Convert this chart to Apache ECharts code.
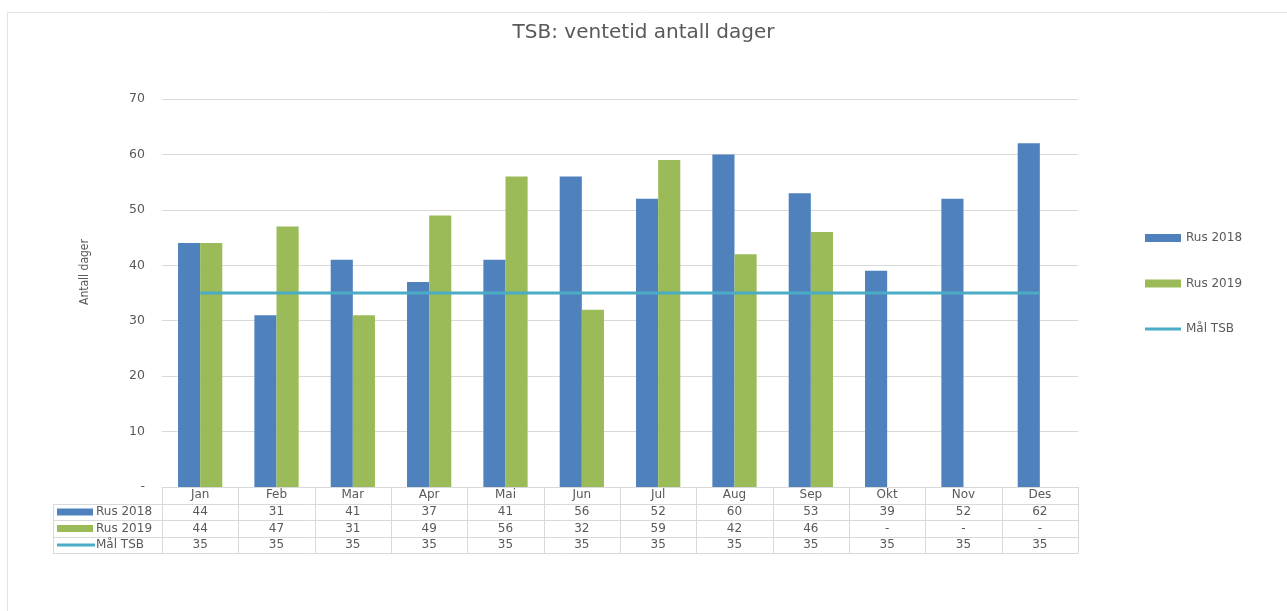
<!DOCTYPE html>
<html>
<head>
<meta charset="utf-8">
<script src="https://cdn.jsdelivr.net/npm/echarts@6/dist/echarts.min.js"></script>
<style>
  html, body { margin: 0; padding: 0; background: #ffffff; }
  #chart { width: 1287px; height: 611px; }
</style>
</head>
<body>
<div id="chart"></div>
<script>
// Monthly waiting time (days) and the TSB target
const categories = ['Jan', 'Feb', 'Mar', 'Apr', 'Mai', 'Jun', 'Jul', 'Aug', 'Sep', 'Okt', 'Nov', 'Des'];
const rus2018 = [44, 31, 41, 37, 41, 56, 52, 60, 53, 39, 52, 62];
const rus2019 = [44, 47, 31, 49, 56, 32, 59, 42, 46, null, null, null];
const maalTSB = [35, 35, 35, 35, 35, 35, 35, 35, 35, 35, 35, 35];
const yMin = 0, yMax = 70, yStep = 10;

const seriesNames = ['Rus 2018', 'Rus 2019', 'Mål TSB'];
const seriesValues = [rus2018, rus2019, maalTSB];

const BLUE = '#4f81bd', GREEN = '#9bbb59', CYAN = '#4bacc6';
const TEXT = '#595959', RULE = '#d9d9d9';
const FONT = '"DejaVu Sans", "Open Sans", sans-serif';

// thin bar used as the legend key of the target line
const LINE_KEY = 'path://M0,0 M0,2.6 L36,2.6 L36,5.4 L0,5.4 Z M36,8';

const chart = echarts.init(document.getElementById('chart'), null, { renderer: 'canvas' });

const option = {
  backgroundColor: '#ffffff',
  animation: false,
  title: {
    text: 'TSB: ventetid antall dager',
    left: 'center',
    top: 18,
    padding: [5, 5, 5, 21],
    textStyle: { color: TEXT, fontSize: 20, fontWeight: 'normal', fontFamily: FONT }
  },
  legend: {
    orient: 'vertical',
    left: 1140,
    top: 227,
    itemGap: 33.5,
    itemWidth: 36,
    itemHeight: 8,
    textStyle: { color: TEXT, fontSize: 12, fontFamily: FONT },
    data: [
      { name: 'Rus 2018', icon: 'rect' },
      { name: 'Rus 2019', icon: 'rect' },
      { name: 'Mål TSB', icon: LINE_KEY }
    ]
  },
  grid: { left: 162, right: 209, top: 99, bottom: 124, containLabel: false },
  xAxis: {
    type: 'category',
    data: categories,
    axisLine: { show: true, lineStyle: { color: RULE } },
    axisTick: { show: false },
    axisLabel: { show: false },
    splitLine: { show: false }
  },
  yAxis: {
    type: 'value',
    min: yMin,
    max: yMax,
    interval: yStep,
    name: 'Antall dager',
    nameLocation: 'middle',
    nameGap: 71,
    nameRotate: 90,
    nameTextStyle: {
      color: '#595959', fontSize: 12,
      fontFamily: '"Liberation Sans Narrow", "DejaVu Sans Condensed", sans-serif',
      padding: [0, 0, 0, 42]
    },
    axisLine: { show: false },
    axisTick: { show: false },
    axisLabel: {
      color: TEXT, fontSize: 12.5, fontFamily: FONT, margin: 17,
      formatter: v => (v === 0 ? '-' : String(v))
    },
    splitLine: { lineStyle: { color: RULE, width: 1 } }
  },
  series: [
    {
      name: 'Rus 2018', type: 'bar', data: rus2018,
      itemStyle: { color: BLUE }, barGap: '0%', barCategoryGap: '42%'
    },
    {
      name: 'Rus 2019', type: 'bar', data: rus2019,
      itemStyle: { color: GREEN }, barGap: '0%', barCategoryGap: '42%'
    },
    {
      name: 'Mål TSB', type: 'line', data: maalTSB,
      symbol: 'none', showSymbol: false,
      lineStyle: { color: CYAN, width: 3 },
      itemStyle: { color: CYAN },
      z: 5
    }
  ]
};

chart.setOption(option);

// Data table under the plot, laid out from the axis positions
function buildTable() {
  const g = [];
  const x0 = chart.convertToPixel({ xAxisIndex: 0 }, 0);
  const x1 = chart.convertToPixel({ xAxisIndex: 0 }, 1);
  const colW = x1 - x0;
  const left = x0 - colW / 2;
  const right = left + colW * categories.length;
  const top = chart.convertToPixel({ yAxisIndex: 0 }, yMin);
  const rowH = 16.6;
  const headLeft = 53;
  const nRows = seriesNames.length + 1;
  const bottom = top + rowH * nRows;
  const cellFont = '12px ' + FONT;

  // outer chart frame
  g.push({ type: 'rect', shape: { x: 7.5, y: 12.5, width: 1300, height: 620 },
           style: { fill: null, stroke: '#e3e3e3', lineWidth: 1 }, silent: true, z: -1 });

  // horizontal rules
  for (let r = 0; r <= nRows; r++) {
    const y = Math.round(top + r * rowH) + 0.5;
    const xs = r === 0 ? left : headLeft;
    g.push({ type: 'line', shape: { x1: xs, y1: y, x2: right, y2: y },
             style: { stroke: RULE, lineWidth: 1 }, silent: true });
  }
  // vertical rules
  for (let c = 0; c <= categories.length; c++) {
    const x = Math.round(left + c * colW) + 0.5;
    g.push({ type: 'line', shape: { x1: x, y1: top, x2: x, y2: bottom },
             style: { stroke: RULE, lineWidth: 1 }, silent: true });
  }
  g.push({ type: 'line', shape: { x1: headLeft + 0.5, y1: top + rowH, x2: headLeft + 0.5, y2: bottom },
           style: { stroke: RULE, lineWidth: 1 }, silent: true });

  // header row: month names
  categories.forEach((m, i) => {
    g.push({ type: 'text', x: chart.convertToPixel({ xAxisIndex: 0 }, i), y: top + rowH / 2,
             style: { text: m, fill: TEXT, font: cellFont, align: 'center', verticalAlign: 'middle' },
             silent: true });
  });

  // series rows
  const keyColors = [BLUE, GREEN, CYAN];
  seriesNames.forEach((name, r) => {
    const cy = top + rowH * (r + 1) + rowH / 2;
    if (r < 2) {
      g.push({ type: 'rect', shape: { x: 57, y: cy - 3.5, width: 36, height: 7 },
               style: { fill: keyColors[r] }, silent: true });
    } else {
      g.push({ type: 'line', shape: { x1: 57, y1: cy, x2: 95, y2: cy },
               style: { stroke: keyColors[r], lineWidth: 3 }, silent: true });
    }
    g.push({ type: 'text', x: 96, y: cy,
             style: { text: name, fill: TEXT, font: cellFont, align: 'left', verticalAlign: 'middle' },
             silent: true });
    seriesValues[r].forEach((v, i) => {
      g.push({ type: 'text', x: chart.convertToPixel({ xAxisIndex: 0 }, i), y: cy,
               style: { text: v == null ? '-' : String(v), fill: TEXT, font: cellFont,
                        align: 'center', verticalAlign: 'middle' },
               silent: true });
    });
  });
  return g;
}

chart.setOption({ graphic: { elements: buildTable() } });
</script>
</body>
</html>
